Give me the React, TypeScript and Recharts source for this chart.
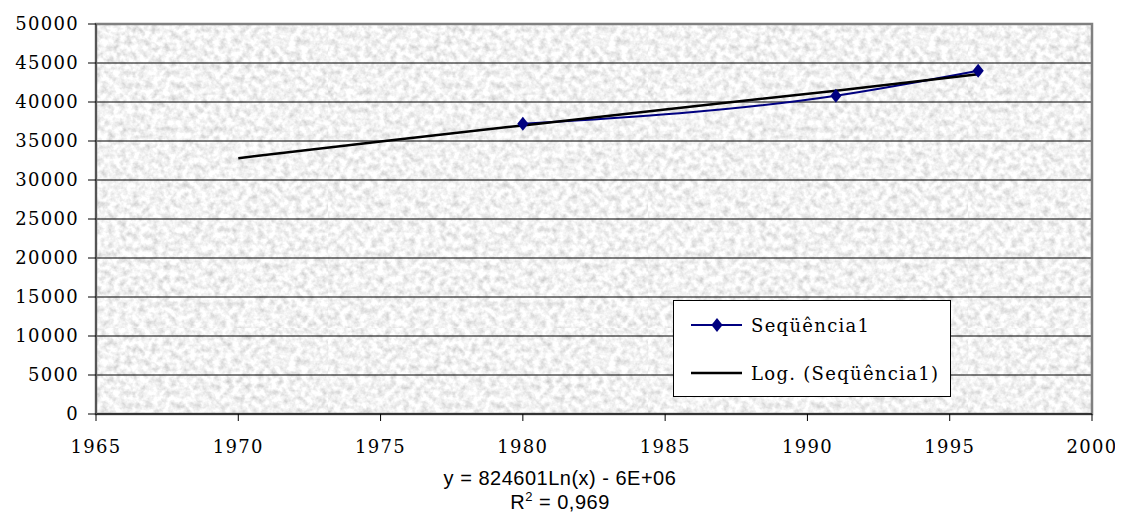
import React from "react";
import {
  LineChart,
  Line,
  XAxis,
  YAxis,
  CartesianGrid,
  ReferenceArea,
  Legend,
} from "recharts";

const years = [1980, 1991, 1996];
const population = [37200, 40800, 44000];

// logarithmic trend line, read at a few points
const trendYears = [1970, 1975, 1980, 1985, 1991, 1996];
const trendValues = [32800, 34950, 37000, 39050, 41450, 43550];

const xTicks = [1965, 1970, 1975, 1980, 1985, 1990, 1995, 2000];
const yTicks = [0, 5000, 10000, 15000, 20000, 25000, 30000, 35000, 40000, 45000, 50000];

const seriesName = "Seqüência1";
const trendName = "Log. (Seqüência1)";

const serieData = years.map((x, i) => ({ x, y: population[i] }));
const trendData = trendYears.map((x, i) => ({ x, y: trendValues[i] }));

const NAVY = "#000080";
const serif = "'DejaVu Serif', serif";
const sans = "'Liberation Sans', Arial, sans-serif";
const tickStyle = { fontFamily: serif, fontSize: 18, fill: "#000", letterSpacing: 1.3 };

function Diamond({ cx, cy, r = 7 }: { cx?: number; cy?: number; r?: number }) {
  if (cx == null || cy == null) return null;
  return (
    <path
      d={`M${cx},${cy - r} L${cx + r * 0.8},${cy} L${cx},${cy + r} L${cx - r * 0.8},${cy} Z`}
      fill={NAVY}
    />
  );
}

function LegendBox() {
  const row = (top: number, color: string, label: string, marker: boolean) => (
    <div style={{ position: "absolute", left: 0, top: top - 14, height: 28, display: "flex", alignItems: "center" }}>
      <svg width={77} height={28} style={{ display: "block" }}>
        <line x1={17} x2={68} y1={14} y2={14} stroke={color} strokeWidth={marker ? 2 : 2.5} />
        {marker && <Diamond cx={43} cy={14} />}
      </svg>
      <span style={{ fontFamily: serif, fontSize: 18, letterSpacing: 1.3, color: "#000", whiteSpace: "nowrap" }}>
        {label}
      </span>
    </div>
  );
  return (
    <div
      style={{
        position: "relative",
        width: 276,
        height: 95,
        background: "#fff",
        border: "1px solid #000",
      }}
    >
      {row(24, NAVY, seriesName, true)}
      {row(72, "#000", trendName, false)}
    </div>
  );
}

const eqLine = (top: number): React.CSSProperties => ({
  position: "absolute",
  left: 352,
  width: 400,
  top,
  textAlign: "center",
  fontFamily: sans,
  fontSize: 20,
  letterSpacing: 0.5,
  lineHeight: "20px",
  color: "#000",
  whiteSpace: "nowrap",
});

export default function App() {
  return (
    <div style={{ position: "relative", width: 1115, height: 508 }}>
      <svg width={0} height={0} style={{ position: "absolute" }}>
        <defs>
          <filter id="paperNoise" x="0" y="0" width="100%" height="100%">
            <feTurbulence type="fractalNoise" baseFrequency="0.16" numOctaves={3} seed={7} result="n" />
            <feColorMatrix
              in="n"
              type="matrix"
              values="0.7 0 0 0 0.54  0.7 0 0 0 0.54  0.7 0 0 0 0.54  0 0 0 0 1"
            />
          </filter>
          <pattern id="paper" patternUnits="userSpaceOnUse" width={320} height={320}>
            <rect width={320} height={320} fill="#e6e6e6" filter="url(#paperNoise)" />
          </pattern>
        </defs>
      </svg>
      <LineChart width={1115} height={508} margin={{ top: 16, right: 31, left: 8, bottom: 62 }}>
        <CartesianGrid vertical={false} stroke="#000" strokeWidth={1} fill="url(#paper)" fillOpacity={1} />
        <XAxis
          type="number"
          dataKey="x"
          domain={[1965, 2000]}
          ticks={xTicks}
          allowDataOverflow
          height={40}
          tickSize={7}
          tickMargin={19}
          tick={tickStyle}
          axisLine={{ stroke: "#333", strokeWidth: 2 }}
          tickLine={{ stroke: "#000" }}
        />
        <YAxis
          type="number"
          domain={[0, 50000]}
          ticks={yTicks}
          width={80}
          tickSize={8}
          tickMargin={9}
          tick={tickStyle}
          axisLine={{ stroke: "#555", strokeWidth: 2 }}
          tickLine={{ stroke: "#000" }}
        />
        <ReferenceArea x1={1965} x2={2000} y1={0} y2={50000} fill="none" stroke="#808080" strokeWidth={2.5} />
        <Line
          data={serieData}
          dataKey="y"
          name={seriesName}
          type="monotone"
          stroke={NAVY}
          strokeWidth={2}
          dot={(p: any) => <Diamond key={p.index} cx={p.cx} cy={p.cy} />}
          activeDot={false}
          isAnimationActive={false}
        />
        <Line
          data={trendData}
          dataKey="y"
          name={trendName}
          type="linear"
          stroke="#000"
          strokeWidth={2.5}
          dot={false}
          activeDot={false}
          isAnimationActive={false}
        />
        <Legend
          layout="horizontal"
          align="center"
          verticalAlign="middle"
          content={() => <LegendBox />}
          wrapperStyle={{ left: 665, top: 292, width: 278, height: 97 }}
        />
      </LineChart>
      <div style={eqLine(460)}>y = 824601Ln(x) - 6E+06</div>
      <div style={eqLine(484)}>
        R<sup style={{ fontSize: 13, verticalAlign: "8px", lineHeight: 0 }}>2</sup> = 0,969
      </div>
    </div>
  );
}
